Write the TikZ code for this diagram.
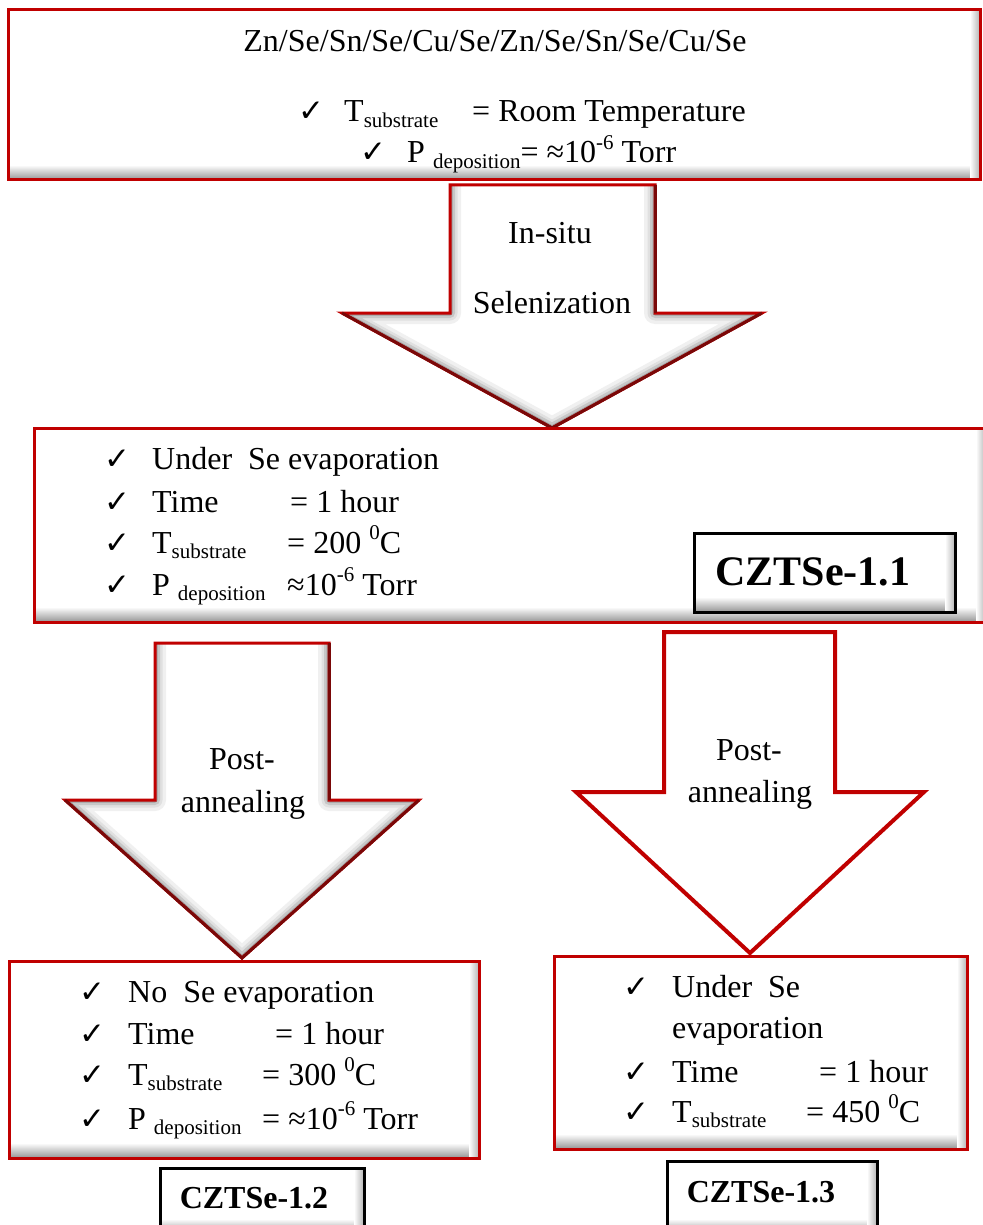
\documentclass[tikz,border=0pt]{standalone}
\usepackage{fontspec}
\setmainfont{Liberation Serif}
\newfontfamily\checkfont{DejaVu Sans}
\definecolor{bred}{HTML}{C00000}
\definecolor{dred}{HTML}{7A0808}
\newcommand\sbs[1]{\raisebox{-0.16em}{\fontsize{21}{21}\selectfont #1}}
\newcommand\sps[1]{\raisebox{0.42em}{\fontsize{21}{21}\selectfont #1}}
\newcommand\ck{{\checkfont\fontsize{31}{31}\selectfont ✓}}
\newcommand\bevbox[5]{%
  \fill[white] (#1,#2) rectangle (#3,#4);
  \shade[top color=white, bottom color=black!42] (#1,#4-15) rectangle (#3,#4);
  \shade[left color=white, right color=black!30] (#3-10,#2) rectangle (#3,#4);
  \draw[line width=3pt, #5] (#1,#2) rectangle (#3,#4);
}
\newcommand\shadearrow[8]{%
  \fill[white] (#1,#3) -- (#2,#3) -- (#2,#4) -- (#6,#4) -- (#7,#8) -- (#5,#4) -- (#1,#4) -- cycle;
  \begin{scope}
    \clip (#1,#3) -- (#2,#3) -- (#2,#4) -- (#6,#4) -- (#7,#8) -- (#5,#4) -- (#1,#4) -- cycle;
    \foreach \w/\c in {22/6,15/12,10/22,5/38} {
      \draw[line width=\w pt, black!\c, line join=round]
        (#1,#3) -- (#1,#4) -- (#5,#4) -- (#7,#8) -- (#6,#4) -- (#2,#4) -- (#2,#3);
    }
  \end{scope}
  \draw[line width=3pt, bred, line join=miter] (#1,#3) -- (#2,#3) -- (#2,#4) -- (#6,#4) -- (#7,#8) -- (#5,#4) -- (#1,#4) -- cycle;
  \draw[line width=3pt, dred, line join=miter] (#6,#4) -- (#7,#8) -- (#5,#4);
  \draw[line width=3pt, dred] (#2,#3) -- (#2,#4);
}
\tikzset{
  txt/.style={anchor=base west, inner sep=0pt, font=\fontsize{32}{38}\selectfont},
  ctxt/.style={anchor=base, inner sep=0pt, font=\fontsize{32}{38}\selectfont},
  cmark/.style={anchor=base west, inner sep=0pt},
  lbl/.style={anchor=base, inner sep=0pt, font=\bfseries\fontsize{32}{38}\selectfont},
  biglbl/.style={anchor=base, inner sep=0pt, font=\bfseries\fontsize{42}{48}\selectfont}
}
\begin{document}
\begin{tikzpicture}[x=1pt, y=-1pt]
\fill[white] (0,0) rectangle (982,1225);
\useasboundingbox (0,0) rectangle (982,1225);

% ---------- top box ----------
\bevbox{8}{10}{980}{180}{bred}
\node[ctxt] (layers) at (495,52) {Zn/Se/Sn/Se/Cu/Se/Zn/Se/Sn/Se/Cu/Se};
\node[cmark] (c01) at (298,122) {\ck};
\node[txt] (t01) at (344,122) {T\sbs{substrate}};
\node[txt] (v01) at (472,122) {= Room Temperature};
\node[cmark] (c02) at (360,163) {\ck};
\node[txt] (t02) at (407,163) {P \sbs{deposition}= ≈10\sps{-6} Torr};

% ---------- arrow 1 ----------
\shadearrow{450}{655}{185}{313}{342}{762}{552}{428}
\node[ctxt] (a1a) at (550,243) {In-situ};
\node[ctxt] (a1b) at (552,313) {Selenization};

% ---------- box 2 ----------
\bevbox{34}{428}{986}{622}{bred}
\node[cmark] (c11) at (104,469) {\ck};
\node[txt] (t11) at (152,469) {Under\ \ Se evaporation};
\node[cmark] (c12) at (104,512) {\ck};
\node[txt] (t12) at (152,512) {Time};
\node[txt] (v12) at (290,512) {= 1 hour};
\node[cmark] (c13) at (104,553) {\ck};
\node[txt] (t13) at (152,553) {T\sbs{substrate}};
\node[txt] (v13) at (287,553) {= 200 \sps{0}C};
\node[cmark] (c14) at (104,595) {\ck};
\node[txt] (t14) at (152,595) {P \sbs{deposition}};
\node[txt] (v14) at (287,595) {≈10\sps{-6} Torr};
\bevbox{694}{533}{955}{612}{black}
\node[biglbl] (s11) at (813,585) {CZTSe-1.1};

% ---------- arrow 2 ----------
\shadearrow{155}{329}{643}{800}{65}{419}{242}{958}
\node[ctxt] (a2a) at (242,769) {Post-};
\node[ctxt] (a2b) at (243,812) {annealing};

% ---------- arrow 3 ----------
\draw[line width=4pt, bred, fill=white, line join=miter]
  (664,632) -- (835,632) -- (835,792) -- (924,792) -- (750,953) -- (576,792) -- (664,792) -- cycle;
\node[ctxt] (a3a) at (749,760) {Post-};
\node[ctxt] (a3b) at (750,802) {annealing};

% ---------- box 3 ----------
\bevbox{9}{961}{479}{1158}{bred}
\node[cmark] (c21) at (79,1002) {\ck};
\node[txt] (t21) at (128,1002) {No\ \ Se evaporation};
\node[cmark] (c22) at (79,1044) {\ck};
\node[txt] (t22) at (128,1044) {Time};
\node[txt] (v22) at (275,1044) {= 1 hour};
\node[cmark] (c23) at (79,1085) {\ck};
\node[txt] (t23) at (128,1085) {T\sbs{substrate}};
\node[txt] (v23) at (262,1085) {= 300 \sps{0}C};
\node[cmark] (c24) at (79,1129) {\ck};
\node[txt] (t24) at (128,1129) {P \sbs{deposition}};
\node[txt] (v24) at (262,1129) {= ≈10\sps{-6} Torr};
\bevbox{160}{1168}{364}{1234}{black}
\node[lbl] (s12) at (254,1208) {CZTSe-1.2};

% ---------- box 4 ----------
\bevbox{554}{956}{967}{1149}{bred}
\node[cmark] (c31) at (623,997) {\ck};
\node[txt] (t31) at (672,997) {Under\ \ Se};
\node[txt] (t31b) at (672,1038) {evaporation};
\node[cmark] (c32) at (623,1082) {\ck};
\node[txt] (t32) at (672,1082) {Time};
\node[txt] (v32) at (819,1082) {= 1 hour};
\node[cmark] (c33) at (623,1122) {\ck};
\node[txt] (t33) at (672,1122) {T\sbs{substrate}};
\node[txt] (v33) at (806,1122) {= 450 \sps{0}C};
\bevbox{667}{1161}{877}{1234}{black}
\node[lbl] (s13) at (761,1202) {CZTSe-1.3};
\end{tikzpicture}
\end{document}
